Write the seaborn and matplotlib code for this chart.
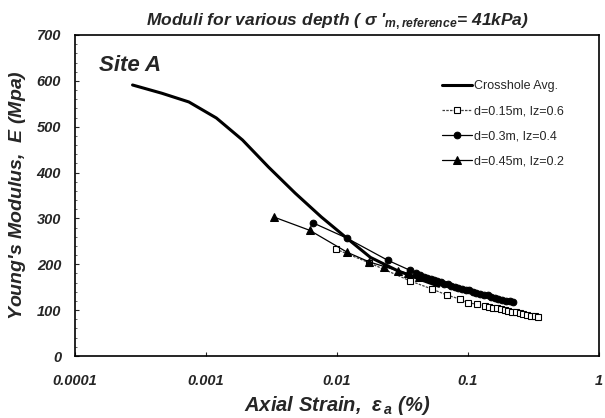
import numpy as np
import pandas as pd
import matplotlib
matplotlib.use("Agg")
import matplotlib.pyplot as plt
import seaborn as sns

# ---- data ----
cross_x = [0.000275, 0.00046, 0.00074, 0.0012, 0.0019, 0.003, 0.0048, 0.0076,
           0.012, 0.018, 0.029, 0.045, 0.06]
cross_E = [591, 573, 554, 519, 471, 412, 355, 303, 256, 215, 186, 165, 152]

sq_x = [0.0098, 0.0177, 0.036, 0.053, 0.069, 0.087, 0.100, 0.117, 0.134,
        0.145, 0.155, 0.166, 0.178, 0.19, 0.203, 0.217, 0.232, 0.248,
        0.265, 0.283, 0.302, 0.322, 0.345]
sq_E = [233, 203, 164, 146, 133, 124, 116, 113, 109,
        107, 105, 104, 102, 101, 99, 97, 96, 94,
        92, 90, 88, 87, 85]

circ_x = [0.0066, 0.0119, 0.0243, 0.036, 0.040, 0.043, 0.046, 0.049, 0.052,
          0.055, 0.058, 0.062, 0.066, 0.070, 0.074, 0.079, 0.084, 0.090,
          0.096, 0.102, 0.109, 0.116, 0.124, 0.132, 0.141, 0.150, 0.160,
          0.170, 0.182, 0.195, 0.208, 0.220]
circ_E = [290, 257, 209, 187, 181, 176, 173, 170, 168,
          166, 163, 161, 158, 156, 153, 151, 149, 147,
          145, 143, 140, 138, 136, 134, 132, 129, 127,
          125, 123, 121, 119, 117]

tri_x = [0.0033, 0.0062, 0.012, 0.0177, 0.023, 0.029, 0.035, 0.042]
tri_E = [303, 274, 226, 205, 195, 186, 180, 172]

x_ticks = [0.0001, 0.001, 0.01, 0.1, 1]
x_tick_labels = ["0.0001", "0.001", "0.01", "0.1", "1"]
y_ticks = [0, 100, 200, 300, 400, 500, 600, 700]

labels = ["Crosshole Avg.", "d=0.15m, Iz=0.6", "d=0.3m, Iz=0.4", "d=0.45m, Iz=0.2"]

sns.set_style("ticks")
plt.rcParams["font.family"] = ["Liberation Sans", "DejaVu Sans"]
plt.rcParams["mathtext.fontset"] = "custom"
plt.rcParams["mathtext.it"] = "Liberation Sans:italic:bold"
plt.rcParams["mathtext.rm"] = "Liberation Sans:bold"
plt.rcParams["mathtext.bf"] = "Liberation Sans:bold"
plt.rcParams["mathtext.default"] = "it"

fig = plt.figure(figsize=(6.05, 4.18), dpi=100)
ax = fig.add_axes([75/605, 1-356/418, 524/605, 321/418])

df_c = pd.DataFrame({"x": cross_x, "E": cross_E})
df_s = pd.DataFrame({"x": sq_x, "E": sq_E})
df_o = pd.DataFrame({"x": circ_x, "E": circ_E})
df_t = pd.DataFrame({"x": tri_x, "E": tri_E})

sns.lineplot(data=df_c, x="x", y="E", ax=ax, color="black", lw=2.2,
             label=labels[0], sort=False)
sns.lineplot(data=df_s, x="x", y="E", ax=ax, color="0.25", lw=0.9,
             linestyle=(0, (2, 1)), marker="s", markersize=4.5,
             markerfacecolor="white", markeredgecolor="black",
             markeredgewidth=0.8, label=labels[1], sort=False)
sns.lineplot(data=df_o, x="x", y="E", ax=ax, color="black", lw=0.9,
             marker="o", markersize=4.8, markerfacecolor="black",
             markeredgecolor="black", label=labels[2], sort=False)
sns.lineplot(data=df_t, x="x", y="E", ax=ax, color="black", lw=0.9,
             marker="^", markersize=5.2, markerfacecolor="black",
             markeredgecolor="black", label=labels[3], sort=False)

ax.set_xscale("log")
ax.set_xlim(0.0001, 1)
ax.set_ylim(0, 700)
ax.set_xticks(x_ticks)
ax.set_xticklabels(x_tick_labels)
ax.set_yticks(y_ticks)
ax.xaxis.set_minor_locator(matplotlib.ticker.NullLocator())
ax.yaxis.set_minor_locator(matplotlib.ticker.MultipleLocator(20))
ax.tick_params(axis="both", which="major", direction="in", length=3,
               width=0.8, labelsize=10.5)
ax.tick_params(axis="x", which="major", pad=13)
ax.tick_params(axis="y", which="major", pad=10)
ax.tick_params(axis="y", which="minor", direction="in", length=1.5, width=0.5)
for lab in ax.get_xticklabels() + ax.get_yticklabels():
    lab.set_fontweight("bold")
    lab.set_fontstyle("italic")

for sp in ax.spines.values():
    sp.set_visible(True)
    sp.set_linewidth(1.2)
    sp.set_color("black")

ax.set_xlabel(r"Axial Strain,  $\varepsilon_{\,a}$ (%)", fontsize=14.5,
              fontweight="bold", fontstyle="italic", labelpad=4)
ax.set_ylabel(r"Young's Modulus,  $E$ (Mpa)", fontsize=14,
              fontweight="bold", fontstyle="italic", labelpad=6)
ax.set_title(r"Moduli for various depth ( $\sigma$ '$_{m,reference}$= 41kPa)",
             fontsize=12.5, fontweight="bold", fontstyle="italic", pad=7)

ax.text(0.045, 0.905, "Site A", transform=ax.transAxes, fontsize=16,
        fontweight="bold", fontstyle="italic", va="center", ha="left")

leg = ax.legend(loc="upper left", bbox_to_anchor=(0.69, 0.875), frameon=False,
                fontsize=9, handlelength=2.4, labelspacing=1.05,
                handletextpad=0.2, borderaxespad=0)

fig.savefig("out.png", dpi=100)
